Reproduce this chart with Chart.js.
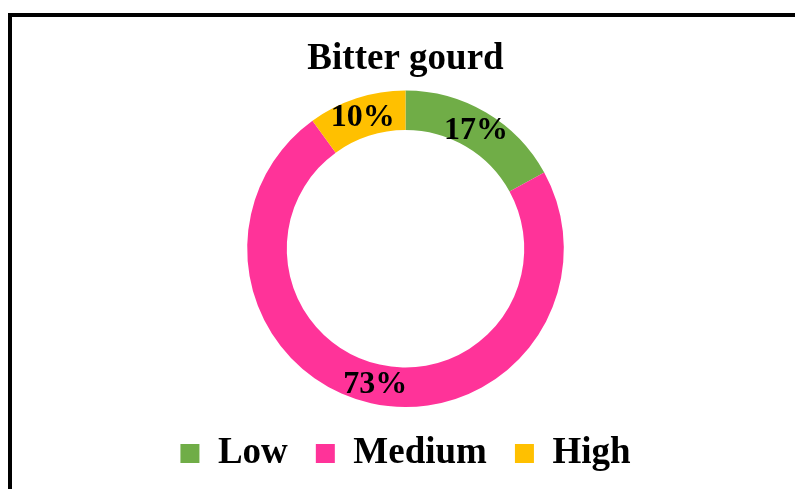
<!DOCTYPE html>
<html>
<head>
<meta charset="utf-8">
<script src="https://cdn.jsdelivr.net/npm/chart.js@4"></script>
<style>
  html, body { margin: 0; padding: 0; background: #fff; overflow: hidden; }
  #frame {
    position: absolute; left: 8px; top: 13px;
    width: 820px; height: 520px;
    border: 4px solid #000; box-sizing: border-box;
  }
  #wrap { position: absolute; left: 0; top: 0; width: 795px; height: 489px; }
</style>
</head>
<body>
<div id="frame"></div>
<div id="wrap"><canvas id="chart"></canvas></div>
<script>
// ── Data ──────────────────────────────────────────────────────────────────────
const titleText = 'Bitter gourd';
const categories = ['Low', 'Medium', 'High'];
const shares = [17, 73, 10];
const sliceColors = ['#70AD47', '#FF3399', '#FFC000'];

const SERIF = "'Liberation Serif', 'Times New Roman', serif";

// Percent labels on each ring segment, placed at the arc's own centre point
const percentLabels = {
  id: 'percentLabels',
  afterDatasetsDraw(chart) {
    const { ctx } = chart;
    const meta = chart.getDatasetMeta(0);
    const total = shares.reduce((a, b) => a + b, 0);
    ctx.save();
    ctx.font = `bold 32px ${SERIF}`;
    ctx.fillStyle = '#000';
    ctx.textAlign = 'center';
    ctx.textBaseline = 'middle';
    meta.data.forEach((arc, i) => {
      const p = arc.tooltipPosition();
      ctx.fillText(Math.round(shares[i] / total * 100) + '%', p.x, p.y + 1);
    });
    ctx.restore();
  }
};

new Chart(document.getElementById('chart'), {
  type: 'doughnut',
  data: {
    labels: categories,
    datasets: [{
      data: shares,
      backgroundColor: sliceColors,
      borderWidth: 0,
      hoverOffset: 0,
    }],
  },
  options: {
    responsive: true,
    maintainAspectRatio: false,
    animation: false,
    cutout: '75%',
    layout: { padding: { top: 37, right: 0, bottom: 7, left: 16 } },
    plugins: {
      tooltip: { enabled: false },
      title: {
        display: true,
        text: titleText,
        color: '#000',
        font: { family: SERIF, size: 37, weight: 'bold' },
        padding: { top: 0, bottom: 9 },
      },
      legend: {
        position: 'bottom',
        labels: {
          color: '#000',
          font: { family: SERIF, size: 37, weight: 'bold' },
          boxWidth: 19,
          boxHeight: 19,
          padding: 28,
        },
      },
    },
  },
  plugins: [percentLabels],
});
</script>
</body>
</html>
